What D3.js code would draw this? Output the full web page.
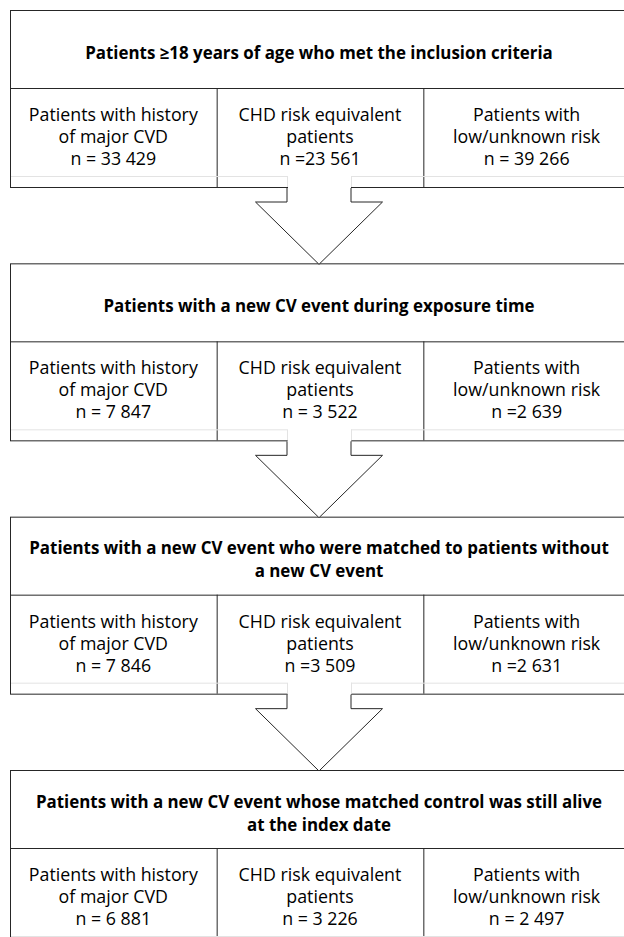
<!DOCTYPE html>
<html>
<head>
<meta charset="utf-8">
<script src="https://cdn.jsdelivr.net/npm/d3@7/dist/d3.min.js"></script>
<style>
  html, body { margin: 0; padding: 0; background: #fff; }
  svg { display: block; }
  text { font-family: "Open Sans", Lato, sans-serif; fill: #000; }
</style>
</head>
<body>
<svg id="chart" width="624" height="937"></svg>
<script>
// ---- data ----
const stageTitles = [
  ["Patients \u226518 years of age who met the inclusion criteria"],
  ["Patients with a new CV event during exposure time"],
  ["Patients with a new CV event who were matched to patients without", "a new CV event"],
  ["Patients with a new CV event whose matched control was still alive", "at the index date"]
];
const groupNames = [
  ["Patients with history", "of major CVD"],
  ["CHD risk equivalent", "patients"],
  ["Patients with", "low/unknown risk"]
];
const countsStage1 = ["n = 33 429", "n =23 561", "n = 39 266"];
const countsStage2 = ["n = 7 847", "n = 3 522", "n =2 639"];
const countsStage3 = ["n = 7 846", "n =3 509", "n =2 631"];
const countsStage4 = ["n = 6 881", "n = 3 226", "n = 2 497"];
const stageCounts = [countsStage1, countsStage2, countsStage3, countsStage4];

// ---- layout ----
const svg = d3.select("#chart");
const boxLeft = 10, boxRight = 630;
const titleH = 78, bodyH = 99, boxH = titleH + bodyH;
const lineH = 22;
const fs = 17.8, fsTitle = 16.9;

const yStage = d3.scaleLinear().domain([0, stageTitles.length - 1]).range([10, 770]);
const xCol = d3.scaleBand().domain(d3.range(groupNames.length)).range([boxLeft, boxRight]);
const cx = (boxLeft + boxRight) / 2 - 1;

const dark = "#262626", faint = "#e3e3e3";

stageTitles.forEach((title, s) => {
  const top = yStage(s);
  const g = svg.append("g");
  const divY = top + titleH;
  const bot = top + boxH;

  g.append("rect").attr("x", boxLeft + 0.5).attr("y", top + 0.5)
    .attr("width", boxRight - boxLeft).attr("height", boxH)
    .attr("fill", "#fff").attr("stroke", dark).attr("stroke-width", 1);
  g.append("line").attr("x1", boxLeft).attr("x2", boxRight)
    .attr("y1", divY + 0.5).attr("y2", divY + 0.5).attr("stroke", dark);
  xCol.domain().slice(1).forEach(i => {
    g.append("line").attr("x1", xCol(i) + 0.5).attr("x2", xCol(i) + 0.5)
      .attr("y1", divY).attr("y2", bot).attr("stroke", dark);
  });

  const tMid = top + titleH / 2 + 4;
  title.forEach((t, k) => {
    g.append("text").attr("x", cx).attr("text-anchor", "middle")
      .attr("y", tMid + (k - (title.length - 1) / 2) * 23 + 6)
      .attr("font-size", fsTitle).attr("font-weight", "bold").text(t);
  });

  groupNames.forEach((lines, i) => {
    const colC = xCol(i) + xCol.bandwidth() / 2;
    const all = lines.concat([stageCounts[s][i]]);
    all.forEach((t, k) => {
      g.append("text").attr("x", colC).attr("text-anchor", "middle")
        .attr("y", divY + 27 + k * lineH + 6)
        .attr("font-size", fs).text(t);
    });
  });
});

// arrows
const shaftHalf = 32, headHalf = 63.5;
d3.range(stageTitles.length).forEach(s => {
  const top = yStage(s);
  const bot = top + boxH;
  const faintY = bot - 11;
  const isLast = s === stageTitles.length - 1;
  svg.append("line").attr("x1", boxLeft + 1).attr("x2", isLast ? boxRight : cx - shaftHalf)
    .attr("y1", faintY + 0.5).attr("y2", faintY + 0.5).attr("stroke", faint);
  if (isLast) return;
  svg.append("line").attr("x1", cx + shaftHalf).attr("x2", boxRight)
    .attr("y1", faintY + 0.5).attr("y2", faintY + 0.5).attr("stroke", faint);
  const nextTop = yStage(s + 1);
  const shaftBot = bot + 15;
  const pts = [
    [cx - shaftHalf, bot + 1], [cx - shaftHalf, shaftBot], [cx - headHalf, shaftBot],
    [cx, nextTop + 1], [cx + headHalf, shaftBot], [cx + shaftHalf, shaftBot], [cx + shaftHalf, bot + 1]
  ];
  svg.append("rect").attr("x", cx - shaftHalf + 1).attr("y", faintY + 1)
    .attr("width", 2 * shaftHalf - 1).attr("height", bot - faintY + 1).attr("fill", "#fff");
  svg.append("path").attr("d", d3.line()(pts))
    .attr("fill", "#fff").attr("stroke", dark).attr("stroke-width", 1);
  [cx - shaftHalf, cx + shaftHalf].forEach(x => {
    svg.append("line").attr("x1", x + 0.5).attr("x2", x + 0.5)
      .attr("y1", faintY).attr("y2", bot).attr("stroke", faint);
  });
});
</script>
</body>
</html>
